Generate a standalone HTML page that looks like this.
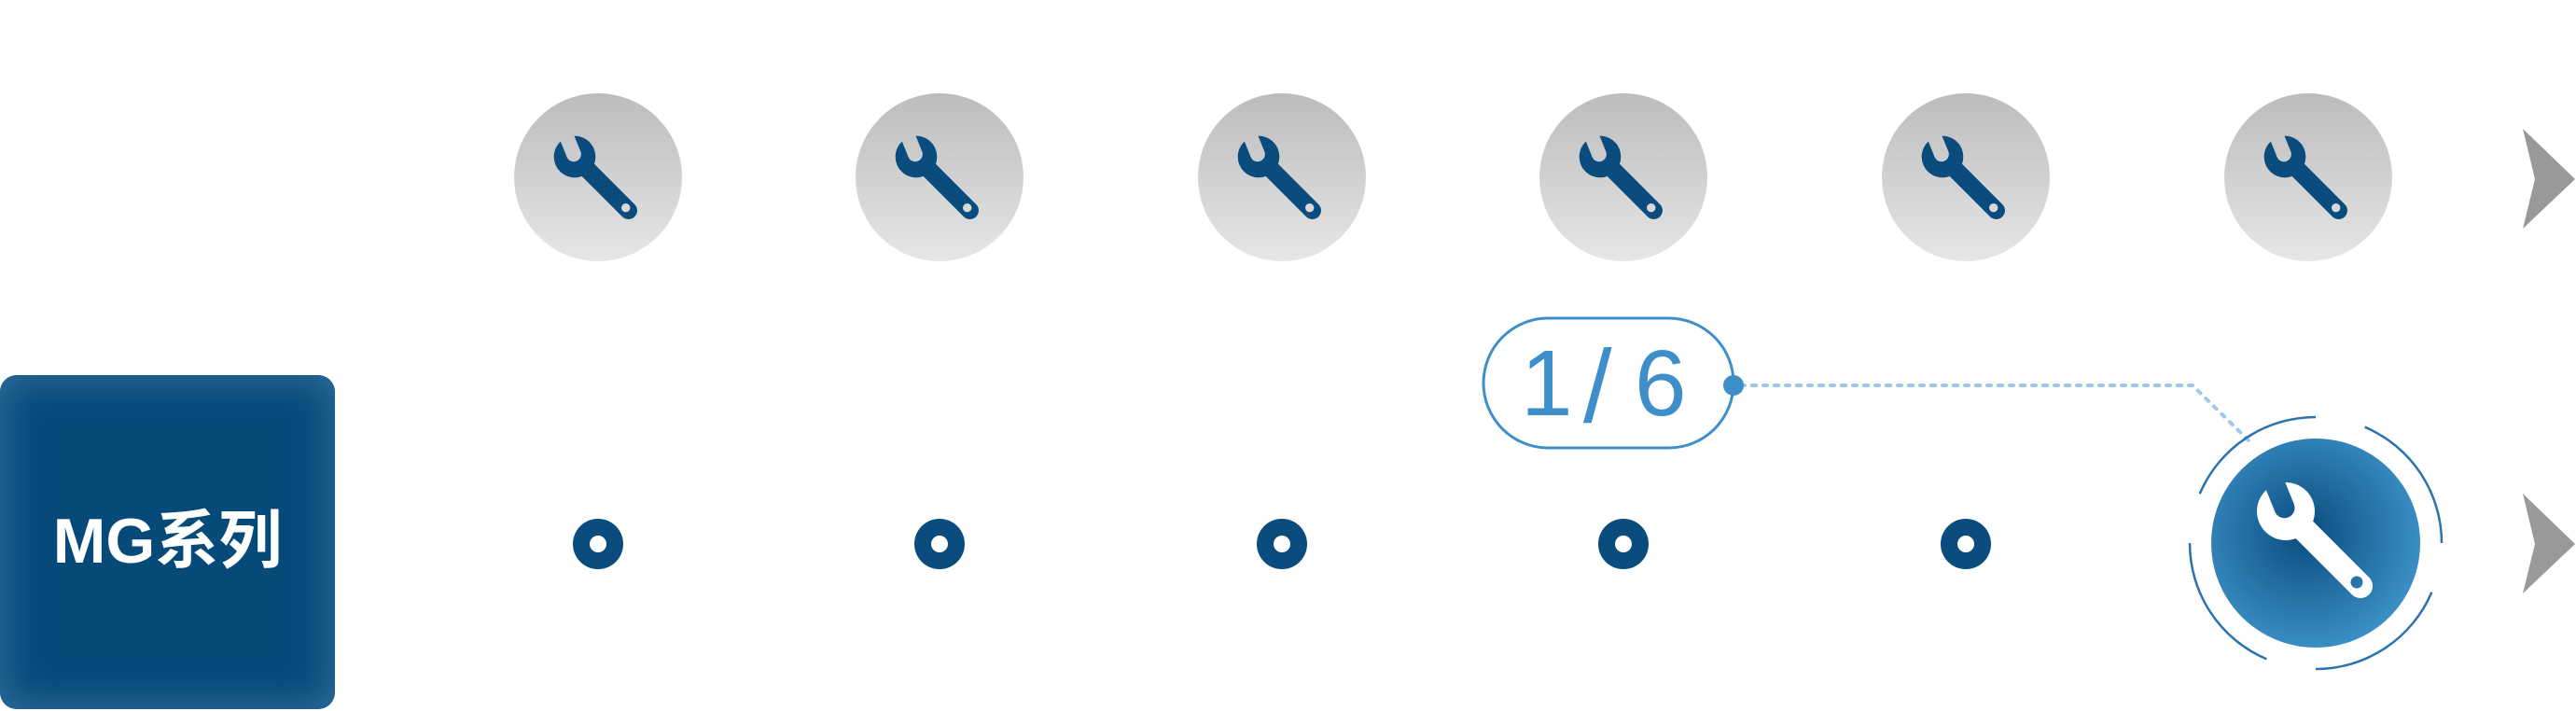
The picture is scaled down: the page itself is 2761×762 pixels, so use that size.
<!DOCTYPE html>
<html><head><meta charset="utf-8"><style>
html,body{margin:0;padding:0;background:#fff;}
body{width:2761px;height:762px;position:relative;overflow:hidden;font-family:"Liberation Sans","Noto Sans CJK SC",sans-serif;}
.box{position:absolute;left:0;top:402px;width:359px;height:358px;border-radius:18px;background:#064a7a;box-shadow:inset 0 0 40px 6px #2d6c9b;}
.box span{position:absolute;left:0;right:0;top:140px;text-align:center;color:#fff;font-weight:bold;font-size:68px;line-height:76px;}
svg{position:absolute;left:0;top:0;}
</style></head><body>
<div class="box"><span>MG系列</span></div>
<svg width="2761" height="762" viewBox="0 0 2761 762">
<defs>
<linearGradient id="gg" x1="0" y1="0" x2="0" y2="1"><stop offset="0" stop-color="#bcbcbc"/><stop offset="1" stop-color="#e6e6e6"/></linearGradient>
<radialGradient id="bg" cx="0.45" cy="0.45" r="0.6"><stop offset="0" stop-color="#0a4c7e"/><stop offset="1" stop-color="#3d93ca"/></radialGradient>
<mask id="m" maskUnits="userSpaceOnUse" x="-80" y="-80" width="220" height="220">
<g fill="#fff" stroke="#fff">
<circle cx="0" cy="0" r="31" stroke="none"/>
<line x1="0" y1="0" x2="80" y2="80" stroke-width="26" stroke-linecap="round"/>
</g>
<g transform="rotate(-112)" fill="#000">
<rect x="4" y="-11" width="40" height="22"/>
<circle cx="4" cy="0" r="11"/>
</g>
<circle cx="76" cy="76" r="6.5" fill="#000"/>
</mask>
<g id="w"><rect x="-80" y="-80" width="220" height="220" mask="url(#m)"/></g>
</defs>

<g>
<circle cx="641" cy="190" r="90" fill="url(#gg)"/>
<circle cx="1007" cy="190" r="90" fill="url(#gg)"/>
<circle cx="1374" cy="190" r="90" fill="url(#gg)"/>
<circle cx="1740" cy="190" r="90" fill="url(#gg)"/>
<circle cx="2107" cy="190" r="90" fill="url(#gg)"/>
<circle cx="2474" cy="190" r="90" fill="url(#gg)"/>
</g>
<g fill="#0a4c7e">
<use href="#w" transform="translate(616,168) scale(0.72)"/>
<use href="#w" transform="translate(982,168) scale(0.72)"/>
<use href="#w" transform="translate(1349,168) scale(0.72)"/>
<use href="#w" transform="translate(1715,168) scale(0.72)"/>
<use href="#w" transform="translate(2082,168) scale(0.72)"/>
<use href="#w" transform="translate(2449,168) scale(0.72)"/>
</g>

<polygon points="2704,138 2760,192 2704,245 2717,192" fill="#999"/>
<polygon points="2704,529 2760,583 2704,636 2717,583" fill="#999"/>

<g fill="#0a4c7e">
<circle cx="641" cy="583" r="27"/><circle cx="1007" cy="583" r="27"/><circle cx="1374" cy="583" r="27"/><circle cx="1740" cy="583" r="27"/><circle cx="2107" cy="583" r="27"/>
</g>
<g fill="#fff">
<circle cx="641" cy="583" r="9"/><circle cx="1007" cy="583" r="9"/><circle cx="1374" cy="583" r="9"/><circle cx="1740" cy="583" r="9"/><circle cx="2107" cy="583" r="9"/>
</g>

<rect x="1590" y="341" width="268" height="139" rx="69.5" fill="none" stroke="#3e8fc9" stroke-width="3"/>
<g fill="#3e8fc9" font-family="Liberation Sans, sans-serif" font-size="100">
<text x="1630" y="445">1</text>
<text x="1697" y="452" font-size="110">/</text>
<text x="1752" y="445">6</text>
</g>
<polyline points="1866,413 2350,413 2411,473" fill="none" stroke="#9fc9e6" stroke-width="4" stroke-dasharray="4 8" stroke-linecap="round"/>
<circle cx="1858" cy="413" r="11" fill="#3e8fc9"/>

<circle cx="2482" cy="582" r="112" fill="url(#bg)"/>
<use href="#w" fill="#fff" transform="translate(2450,548) scale(1.0)"/>
<g fill="none" stroke="#2a73b0" stroke-width="2.5">
<path d="M2357.7,529.3 A135,135 0 0 1 2482,447"/>
<path d="M2534.7,457.7 A135,135 0 0 1 2617,582"/>
<path d="M2606.3,634.7 A135,135 0 0 1 2482,717"/>
<path d="M2429.3,706.3 A135,135 0 0 1 2347,582"/>
</g>
</svg>
</body></html>
